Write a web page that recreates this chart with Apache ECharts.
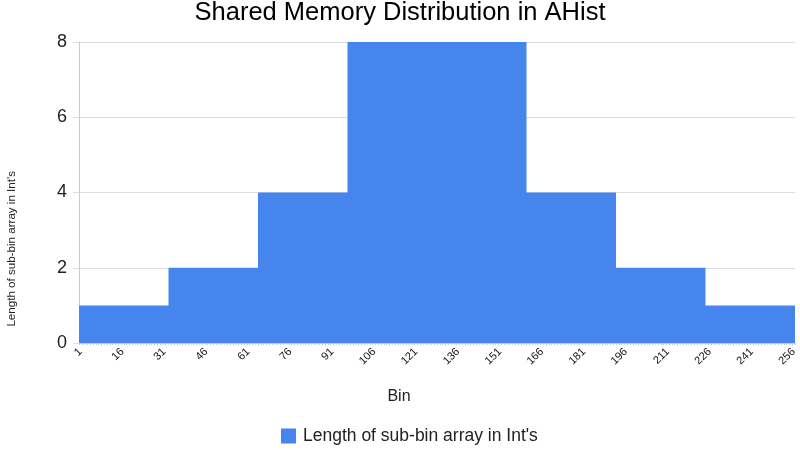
<!DOCTYPE html>
<html>
<head>
<meta charset="utf-8">
<script src="https://cdn.jsdelivr.net/npm/echarts@6/dist/echarts.min.js"></script>
<style>html,body{margin:0;padding:0;background:#fff}#c{width:800px;height:450px}</style>
</head>
<body>
<div id="c"></div>
<script>
var titleText = 'Shared Memory Distribution in AHist';
var seriesName = "Length of sub-bin array in Int's";
var xAxisName = 'Bin';
var yTicks = [0, 2, 4, 6, 8];
// bins 1..256
var bins = [];
for (var b = 1; b <= 256; b++) bins.push(String(b));
// sub-bin array length per bin
var lengths = [
  1,1,1,1,1,1,1,1,1,1,1,1,1,1,1,1,1,1,1,1,1,1,1,1,1,1,1,1,1,1,1,1,
  2,2,2,2,2,2,2,2,2,2,2,2,2,2,2,2,2,2,2,2,2,2,2,2,2,2,2,2,2,2,2,2,
  4,4,4,4,4,4,4,4,4,4,4,4,4,4,4,4,4,4,4,4,4,4,4,4,4,4,4,4,4,4,4,4,
  8,8,8,8,8,8,8,8,8,8,8,8,8,8,8,8,8,8,8,8,8,8,8,8,8,8,8,8,8,8,8,8,
  8,8,8,8,8,8,8,8,8,8,8,8,8,8,8,8,8,8,8,8,8,8,8,8,8,8,8,8,8,8,8,8,
  4,4,4,4,4,4,4,4,4,4,4,4,4,4,4,4,4,4,4,4,4,4,4,4,4,4,4,4,4,4,4,4,
  2,2,2,2,2,2,2,2,2,2,2,2,2,2,2,2,2,2,2,2,2,2,2,2,2,2,2,2,2,2,2,2,
  1,1,1,1,1,1,1,1,1,1,1,1,1,1,1,1,1,1,1,1,1,1,1,1,1,1,1,1,1,1,1,1
];

var chart = echarts.init(document.getElementById('c'));
var font = '"Liberation Sans", Arial, sans-serif';
var barColor = '#4684ee';
chart.setOption({
  animation: false,
  backgroundColor: '#fff',
  textStyle: { fontFamily: font },
  title: {
    text: titleText, left: 'center', top: -5,
    textStyle: { fontSize: 25.5, fontWeight: 'normal', color: '#000', fontFamily: font }
  },
  legend: {
    bottom: 0, left: 276,
    icon: 'rect', itemWidth: 15, itemHeight: 15, itemGap: 6,
    textStyle: { fontSize: 17.5, color: '#222', fontFamily: font, padding: [0, 0, 0, 2] },
    data: [seriesName]
  },
  grid: { left: 79, right: 5, top: 42, bottom: 107 },
  xAxis: {
    type: 'category', data: bins,
    name: xAxisName, nameLocation: 'middle', nameGap: 46,
    nameTextStyle: { fontSize: 16, color: '#222', padding: [0, 76, 0, 0] },
    axisLine: { show: true, lineStyle: { color: '#ccc' } },
    axisTick: { show: true, interval: 0, length: 2, lineStyle: { color: '#ccc' } },
    axisLabel: { interval: 14, rotate: 45, fontSize: 11, color: '#111', margin: 7 }
  },
  yAxis: {
    type: 'value', min: yTicks[0], max: yTicks[yTicks.length - 1], interval: 2,
    axisLine: { show: true, lineStyle: { color: '#ccc' } },
    axisTick: { show: true, length: 6, lineStyle: { color: '#ddd' } },
    axisLabel: { fontSize: 18, color: '#222', margin: 12 },
    splitLine: { lineStyle: { color: '#ddd' } }
  },
  graphic: [{
    type: 'text', left: 6, top: 171, rotation: Math.PI / 2,
    style: { text: seriesName, fontSize: 11.6, fill: '#222', fontFamily: font }
  }],
  series: [{
    name: seriesName, type: 'bar', data: lengths,
    barCategoryGap: '0%', barGap: '0%',
    large: true, largeThreshold: 100,
    itemStyle: { color: barColor }
  }]
});
</script>
</body>
</html>
